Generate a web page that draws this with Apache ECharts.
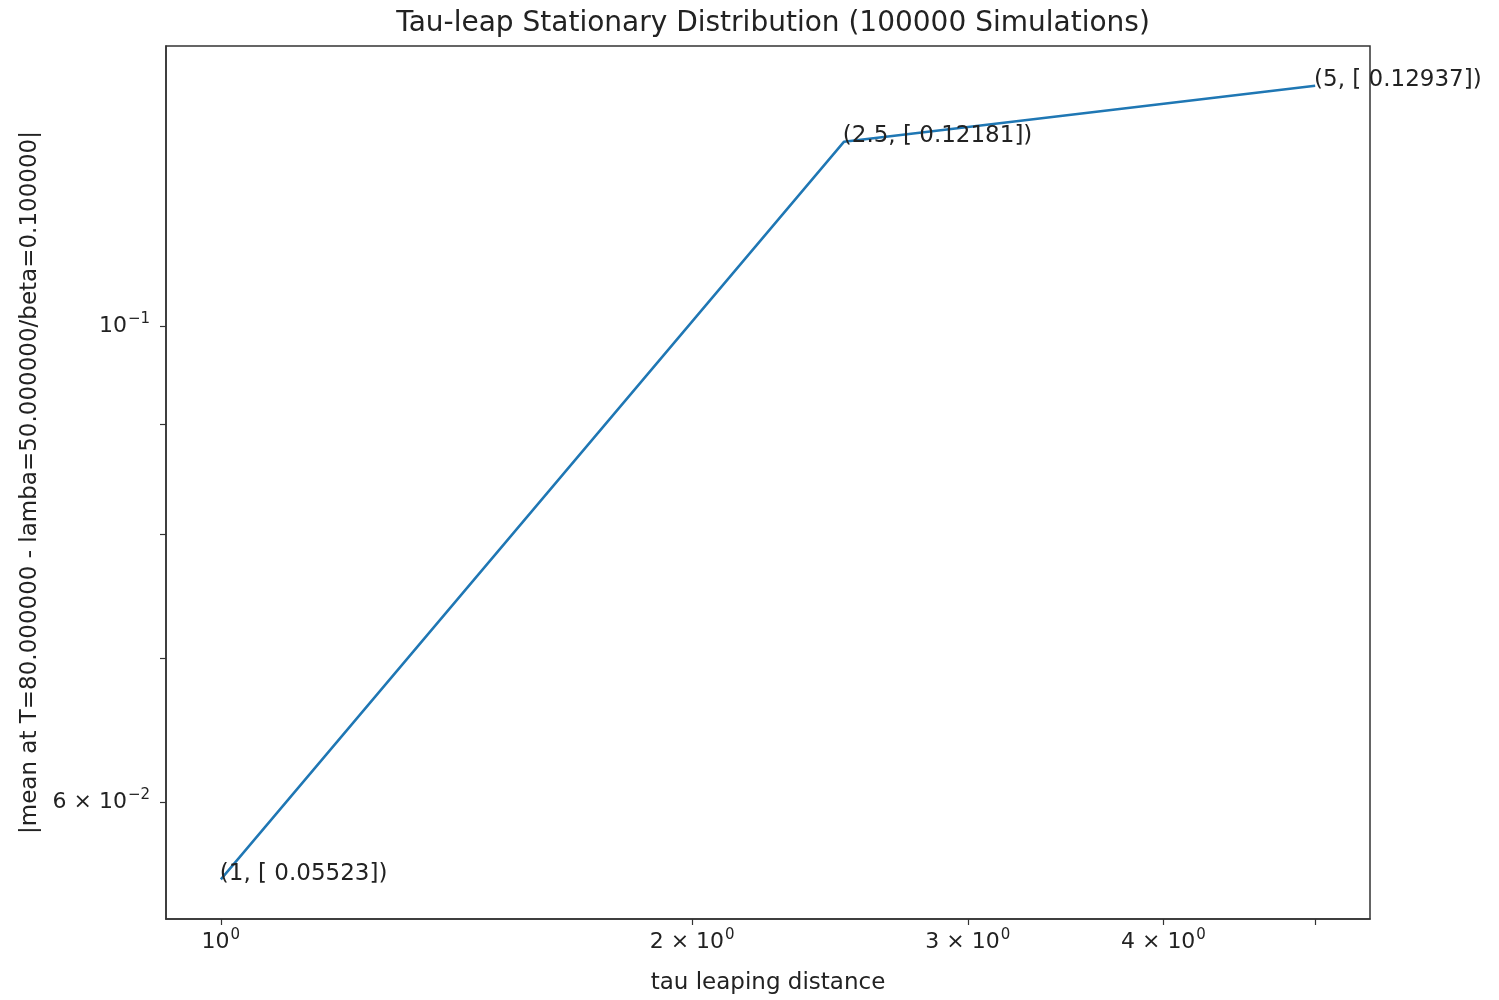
<!DOCTYPE html>
<html>
<head>
<meta charset="utf-8">
<script src="https://cdn.jsdelivr.net/npm/echarts@6/dist/echarts.min.js"></script>
<style>
  html, body { margin: 0; padding: 0; background: #fff; }
  #chart { width: 1499px; height: 1000px; }
</style>
</head>
<body>
<div id="chart"></div>
<script>
// tau leaping distance and the mean error at T=80
const tauValues = [1, 2.5, 5];
const meanError = [0.05523, 0.12181, 0.12937];
const pointLabels = ['(1, [ 0.05523])', '(2.5, [ 0.12181])', '(5, [ 0.12937])'];

// tick positions on the log axes
const xTickValues = [1, 2, 3, 4, 5];
const xLabelValues = [1, 2, 3, 4];
const yTickValues = [0.06, 0.07, 0.08, 0.09, 0.1];
const yLabelValues = [0.06, 0.1];

const FONT = 'DejaVu Sans';

function sciLabel(v) {
  // mantissa × 10^exponent, mantissa omitted when it is 1
  const e = Math.floor(Math.log10(v) + 1e-9);
  const m = Math.round(v / Math.pow(10, e));
  const base = m === 1 ? '10' : m + ' × 10';
  return '{b|' + base + '}{s|' + String(e).replace('-', '−') + '}';
}

const rich = {
  b: { fontFamily: FONT, fontSize: 22, color: '#222' },
  s: { fontFamily: FONT, fontSize: 15, color: '#222', padding: [0, 0, 13, 1] }
};

const chart = echarts.init(document.getElementById('chart'));
chart.setOption({
  animation: false,
  backgroundColor: '#fff',
  title: {
    text: 'Tau-leap Stationary Distribution (100000 Simulations)',
    left: 768, top: 5, textAlign: 'center',
    textStyle: { fontFamily: FONT, fontSize: 28, fontWeight: 'normal', color: '#222' }
  },
  grid: {
    left: 166, top: 46, right: 129, bottom: 80,
    show: true, borderColor: '#333', borderWidth: 1.5, backgroundColor: '#fff'
  },
  xAxis: {
    type: 'log', logBase: 10, min: 0.9225, max: 5.42,
    name: 'tau leaping distance', nameLocation: 'middle', nameGap: 53,
    nameTextStyle: { fontFamily: FONT, fontSize: 23, color: '#222' },
    axisLine: { show: true, lineStyle: { color: '#333', width: 1.5 } },
    axisTick: { show: true, customValues: xTickValues, length: 6, lineStyle: { color: '#333', width: 1.2 } },
    axisLabel: { customValues: xLabelValues, margin: 9, formatter: sciLabel, rich: rich },
    splitLine: { show: false }, minorTick: { show: false }
  },
  yAxis: {
    type: 'log', logBase: 10, min: 0.05293, max: 0.1350,
    name: '|mean at T=80.000000 - lamba=50.000000/beta=0.100000|',
    nameLocation: 'middle', nameGap: 124, nameRotate: 90,
    nameTextStyle: { fontFamily: FONT, fontSize: 23, color: '#222' },
    axisLine: { show: true, lineStyle: { color: '#333', width: 1.5 } },
    axisTick: { show: true, customValues: yTickValues, length: 6, lineStyle: { color: '#333', width: 1.2 } },
    axisLabel: { customValues: yLabelValues, margin: 16, formatter: sciLabel, rich: rich },
    splitLine: { show: false }, minorTick: { show: false }
  },
  series: [{
    type: 'line',
    data: tauValues.map((t, i) => [t, meanError[i]]),
    symbol: 'circle', symbolSize: 0.1,
    lineStyle: { color: '#1f77b4', width: 2.5 },
    itemStyle: { color: '#1f77b4' },
    label: {
      show: true,
      position: [0, 0], align: 'left', verticalAlign: 'bottom', offset: [-1, 6],
      fontFamily: FONT, fontSize: 23, color: '#222',
      formatter: p => pointLabels[p.dataIndex]
    }
  }]
});
</script>
</body>
</html>
